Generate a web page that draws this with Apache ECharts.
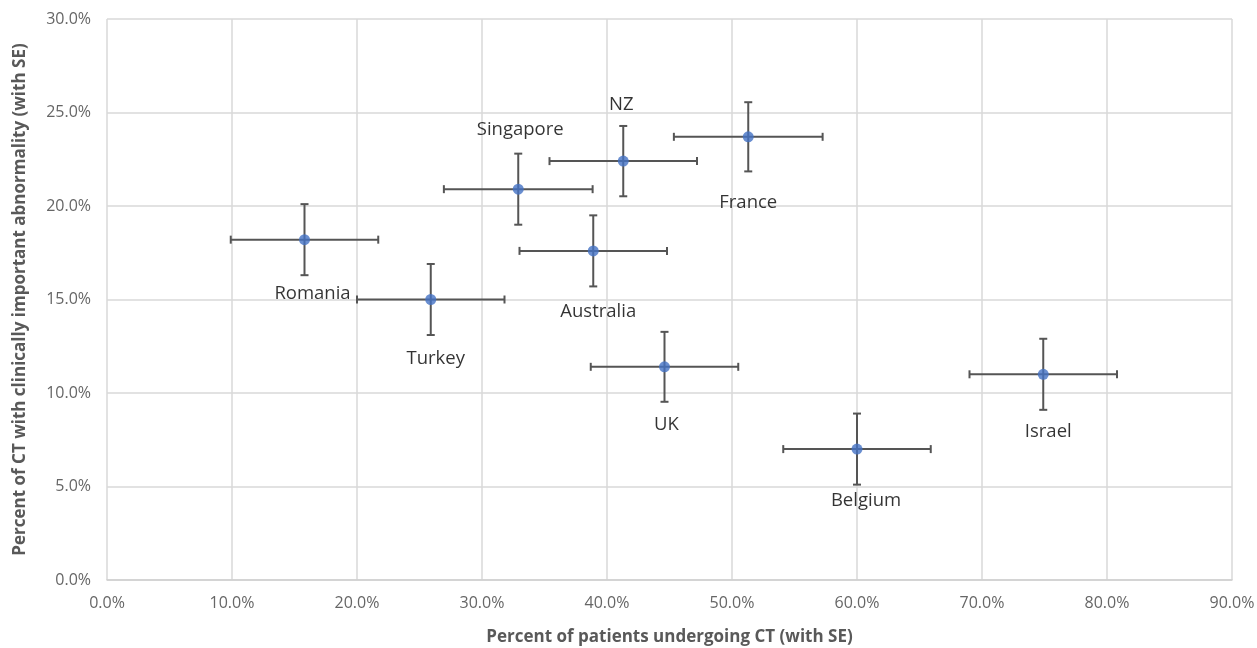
<!DOCTYPE html>
<html>
<head>
<meta charset="utf-8">
<script src="https://cdn.jsdelivr.net/npm/echarts@6/dist/echarts.min.js"></script>
<style>
html,body{margin:0;padding:0;background:#fff;}
#chart{width:1257px;height:648px;}
</style>
</head>
<body>
<div id="chart"></div>
<script>
// ---- data (percent units) ----
const countries = ['Romania','Turkey','Singapore','NZ','Australia','France','UK','Belgium','Israel'];
const ctRate    = [15.8, 25.9, 32.9, 41.3, 38.9, 51.3, 44.6, 60.0, 74.9];
const abnRate   = [18.2, 15.0, 20.9, 22.4, 17.6, 23.7, 11.4, 7.0, 11.0];
const ctSE      = [5.9, 5.9, 5.95, 5.9, 5.9, 5.95, 5.9, 5.9, 5.9];
const abnSE     = [1.9, 1.9, 1.9, 1.88, 1.9, 1.85, 1.87, 1.9, 1.9];
const xTicks = [0,10,20,30,40,50,60,70,80,90];
const yTicks = [0,5,10,15,20,25,30];

// label placement (pixel offsets from each point) - styling only
const labelOffsets = [[8,54],[5,59],[2,-59],[-2,-56],[5,61],[0,66],[2,58],[9,52],[5,57]];

const chart = echarts.init(document.getElementById('chart'));
const grey = '#595959';
const fmt = v => v.toFixed(1) + '%';

const pts = countries.map((c,i) => ({
  name: c,
  value: [ctRate[i], abnRate[i]],
  label: { offset: labelOffsets[i] }
}));
const errData = countries.map((c,i) => [ctRate[i], abnRate[i], ctRate[i]-ctSE[i], ctRate[i]+ctSE[i], abnRate[i]-abnSE[i], abnRate[i]+abnSE[i]]);

chart.setOption({
  animation: false,
  backgroundColor: '#fff',
  grid: { left: 107, right: 25, top: 19, bottom: 68, outerBoundsMode: 'none', containLabel: false },
  xAxis: {
    type: 'value', min: xTicks[0], max: xTicks[xTicks.length-1], interval: 10,
    name: 'Percent of patients undergoing CT (with SE)',
    nameLocation: 'middle', nameGap: 49,
    nameTextStyle: { color: grey, fontSize: 17, fontWeight: 'bold', fontFamily: 'Open Sans' },
    axisLine: { show: true, lineStyle: { color: '#d0d0d0', width: 1.5 } },
    axisTick: { show: false },
    axisLabel: { color: '#666666', fontSize: 16, fontFamily: 'Open Sans', margin: 15, formatter: fmt },
    splitLine: { show: true, lineStyle: { color: '#d9d9d9', width: 1.5 } }
  },
  yAxis: {
    type: 'value', min: yTicks[0], max: yTicks[yTicks.length-1], interval: 5,
    name: 'Percent of CT with clinically important abnormality (with SE)',
    nameLocation: 'middle', nameGap: 78,
    nameTextStyle: { color: grey, fontSize: 17, fontWeight: 'bold', fontFamily: 'Open Sans' },
    axisLine: { show: false },
    axisTick: { show: false },
    axisLabel: { color: '#666666', fontSize: 16, fontFamily: 'Open Sans', margin: 16, formatter: fmt },
    splitLine: { show: true, lineStyle: { color: '#d9d9d9', width: 1.5 } }
  },
  series: [
    {
      type: 'custom',
      data: errData,
      z: 2,
      renderItem: function (params, api) {
        const c = api.coord([api.value(0), api.value(1)]);
        const xl = api.coord([api.value(2), api.value(1)]);
        const xh = api.coord([api.value(3), api.value(1)]);
        const yl = api.coord([api.value(0), api.value(4)]);
        const yh = api.coord([api.value(0), api.value(5)]);
        const cap = 4;
        const st = { stroke: '#555555', lineWidth: 2 };
        return {
          type: 'group',
          children: [
            { type: 'line', shape: { x1: xl[0], y1: c[1], x2: xh[0], y2: c[1] }, style: st },
            { type: 'line', shape: { x1: xl[0], y1: c[1]-cap, x2: xl[0], y2: c[1]+cap }, style: st },
            { type: 'line', shape: { x1: xh[0], y1: c[1]-cap, x2: xh[0], y2: c[1]+cap }, style: st },
            { type: 'line', shape: { x1: c[0], y1: yl[1], x2: c[0], y2: yh[1] }, style: st },
            { type: 'line', shape: { x1: c[0]-cap, y1: yl[1], x2: c[0]+cap, y2: yl[1] }, style: st },
            { type: 'line', shape: { x1: c[0]-cap, y1: yh[1], x2: c[0]+cap, y2: yh[1] }, style: st }
          ]
        };
      }
    },
    {
      type: 'scatter',
      data: pts,
      z: 3,
      symbol: 'circle',
      symbolSize: 11,
      itemStyle: { color: '#4472c4' },
      label: {
        show: true,
        position: 'inside',
        formatter: p => p.name,
        color: '#000000',
        fontSize: 18.5,
        fontFamily: 'Open Sans'
      }
    }
  ]
});
</script>
</body>
</html>
